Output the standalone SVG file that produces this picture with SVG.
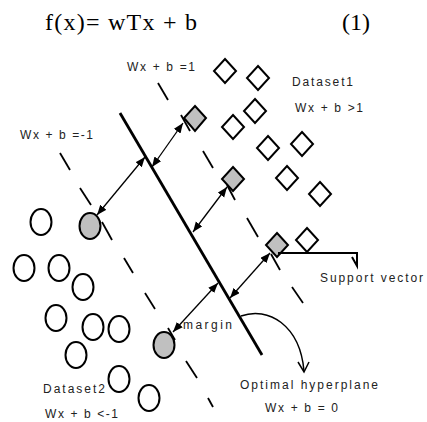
<svg xmlns="http://www.w3.org/2000/svg" width="427" height="422" viewBox="0 0 427 422">
<style>
.lbl{font-family:"Liberation Sans",Arial,sans-serif;font-size:12px;fill:#222}
.eq{font-family:"Liberation Serif","Times New Roman",serif;font-size:24px;fill:#000}
.dia{fill:#fff;stroke:#000;stroke-width:2}
.dia.g,.cir.g{fill:#c0c0c0}
.cir{fill:#fff;stroke:#000;stroke-width:2}
.dash{stroke:#000;stroke-width:1.8;fill:none}
.arr{stroke:#000;stroke-width:1.3;fill:none;marker-start:url(#ah);marker-end:url(#ah)}
</style>
<defs>
<marker id="ah" markerUnits="userSpaceOnUse" markerWidth="12" markerHeight="10" refX="10" refY="4" orient="auto-start-reverse">
<path d="M0,0 L10,4 L0,8 Z" fill="#000"/>
</marker>
</defs>
<rect width="427" height="422" fill="#fff"/>
<g id="formula">
<text class="eq" x="45" y="30" textLength="152" lengthAdjust="spacing">f(x)= wTx + b</text>
<text class="eq" x="342" y="30">(1)</text>
</g>
<g id="margins">
<g id="line-minus1">
<line class="dash" x1="60" y1="153" x2="70" y2="170"/>
<line class="dash" x1="80" y1="188" x2="91" y2="205"/>
<line class="dash" x1="102" y1="222" x2="112" y2="240"/>
<line class="dash" x1="124" y1="258" x2="133" y2="273"/>
<line class="dash" x1="145" y1="293" x2="155" y2="309"/>
<line class="dash" x1="168" y1="328" x2="175" y2="340"/>
<line class="dash" x1="186" y1="361" x2="197" y2="378"/>
<line class="dash" x1="208" y1="398" x2="213" y2="407"/>
</g>
<g id="line-plus1">
<line class="dash" x1="158" y1="83" x2="168" y2="100"/>
<line class="dash" x1="181" y1="115" x2="190" y2="131"/>
<line class="dash" x1="203" y1="151" x2="213" y2="168"/>
<line class="dash" x1="227" y1="185" x2="235" y2="200"/>
<line class="dash" x1="247" y1="218" x2="258" y2="237"/>
<line class="dash" x1="271" y1="254" x2="280" y2="270"/>
<line class="dash" x1="292" y1="287" x2="303" y2="303"/>
</g>
</g>
<g id="hyperplane">
<line x1="120" y1="113" x2="262" y2="355" stroke="#000" stroke-width="2.8"/>
</g>
<g id="dataset1">
<path class="dia" d="M225,59 L236,71 L225,83 L214,71 Z"/>
<path class="dia" d="M258,66 L269,78 L258,90 L247,78 Z"/>
<path class="dia" d="M255,99 L266,111 L255,123 L244,111 Z"/>
<path class="dia" d="M233,115 L244,127 L233,139 L222,127 Z"/>
<path class="dia" d="M268,136 L279,148 L268,160 L257,148 Z"/>
<path class="dia" d="M302,132 L313,144 L302,156 L291,144 Z"/>
<path class="dia" d="M287,166 L298,178 L287,190 L276,178 Z"/>
<path class="dia" d="M320,182 L331,194 L320,206 L309,194 Z"/>
<path class="dia" d="M307,228 L318,240 L307,252 L296,240 Z"/>
<path class="dia g" d="M195,106 L206,118 L195,131 L184,118 Z"/>
<path class="dia g" d="M233,167 L244,179 L233,191 L222,179 Z"/>
<path class="dia g" d="M277,233 L288,245 L277,257 L266,245 Z"/>
</g>
<g id="dataset2">
<ellipse class="cir" cx="41" cy="222" rx="10.5" ry="13"/>
<ellipse class="cir" cx="24" cy="268" rx="10.5" ry="13"/>
<ellipse class="cir" cx="59" cy="268" rx="10.5" ry="13"/>
<ellipse class="cir" cx="83" cy="287" rx="10.5" ry="13"/>
<ellipse class="cir" cx="56" cy="318" rx="10.5" ry="13"/>
<ellipse class="cir" cx="93" cy="327" rx="10.5" ry="13"/>
<ellipse class="cir" cx="119" cy="329" rx="10.5" ry="13"/>
<ellipse class="cir" cx="76" cy="355" rx="10.5" ry="13"/>
<ellipse class="cir" cx="119" cy="379" rx="10.5" ry="13"/>
<ellipse class="cir" cx="149" cy="398" rx="10.5" ry="13"/>
<ellipse class="cir g" cx="90" cy="226" rx="10.5" ry="13"/>
<ellipse class="cir g" cx="164" cy="345" rx="10.5" ry="13"/>
</g>
<g id="connectors">
<line class="arr" x1="152" y1="167" x2="183" y2="123"/>
<line class="arr" x1="97" y1="215" x2="145" y2="157"/>
<line class="arr" x1="193" y1="232" x2="227" y2="187"/>
<line class="arr" x1="173" y1="332" x2="218" y2="283"/>
<line class="arr" x1="230" y1="298" x2="270" y2="253"/>
<path d="M278,253 L357,253 L357,266 L352,257" fill="none" stroke="#000" stroke-width="2"/>
<path d="M241,316 C268,306 300,325 304,371" fill="none" stroke="#000" stroke-width="1.5"/>
<path d="M298,362 L304,372 L309,362" fill="none" stroke="#000" stroke-width="1.5"/>
</g>
<g id="labels">
<text class="lbl" x="127" y="71" textLength="68" lengthAdjust="spacing">Wx + b =1</text>
<text class="lbl" x="292" y="86" textLength="61" lengthAdjust="spacing">Dataset1</text>
<text class="lbl" x="295" y="112" textLength="68" lengthAdjust="spacing">Wx + b &gt;1</text>
<text class="lbl" x="20" y="139" textLength="73" lengthAdjust="spacing">Wx + b =-1</text>
<text class="lbl" x="320" y="282" textLength="103" lengthAdjust="spacing">Support vector</text>
<text class="lbl" x="183" y="329" textLength="49" lengthAdjust="spacing">margin</text>
<text class="lbl" x="240" y="389" textLength="138" lengthAdjust="spacing">Optimal hyperplane</text>
<text class="lbl" x="265" y="412" textLength="73" lengthAdjust="spacing">Wx + b = 0</text>
<text class="lbl" x="43" y="393" textLength="62" lengthAdjust="spacing">Dataset2</text>
<text class="lbl" x="45" y="418" textLength="73" lengthAdjust="spacing">Wx + b &lt;-1</text>
</g>
</svg>
